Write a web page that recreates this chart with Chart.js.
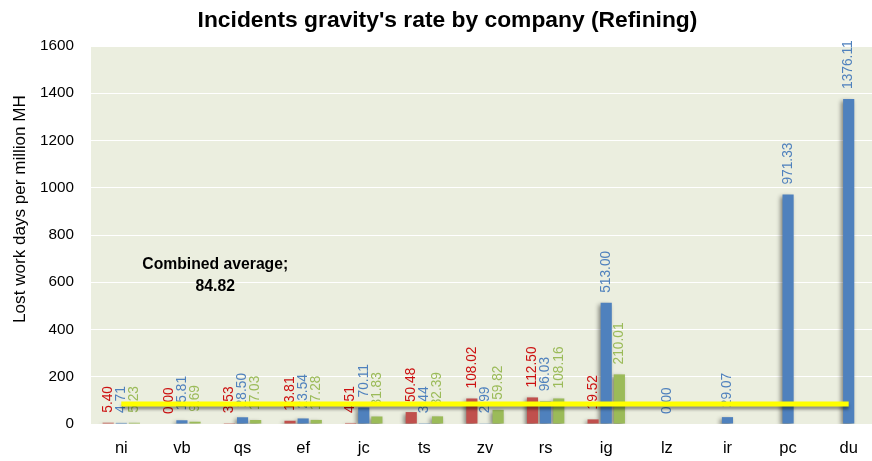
<!DOCTYPE html>
<html><head><meta charset="utf-8">
<script src="https://cdn.jsdelivr.net/npm/chart.js@4.4.1/dist/chart.umd.min.js"></script>
<style>html,body{margin:0;padding:0;overflow:hidden;background:#fff}canvas{display:block}</style>
</head><body>
<canvas id="c" width="880" height="461" style="width:880px;height:461px"></canvas>
<script>
const categories = ['ni','vb','qs','ef','jc','ts','zv','rs','ig','lz','ir','pc','du'];
const seriesRed   = [5.40, 0.00, 3.53, 13.81, 4.51, 50.48, 108.02, 112.50, 19.52, null, null, null, null];
const seriesBlue  = [4.71, 15.81, 28.50, 23.54, 70.11, 3.44, 2.99, 96.03, 513.00, 0.00, 29.07, 971.33, 1376.11];
const seriesGreen = [5.23, 9.69, 17.03, 17.28, 31.83, 32.39, 59.82, 108.16, 210.01, null, null, null, null];
const combinedAverage = 84.82;
const averageLine = [84.82, 84.82, 84.82, 84.82, 84.82, 84.82, 84.82, 84.82, 84.82, 84.82, 84.82, 84.82, 84.82];
const yTicks = [0, 200, 400, 600, 800, 1000, 1200, 1400, 1600];
const chartTitle = "Incidents gravity's rate by company (Refining)";
const yAxisTitle = 'Lost work days per million MH';
const avgLabelLines = ['Combined average;', '84.82'];

const FAM = "'Liberation Sans', Arial, sans-serif";
const mctx = document.createElement('canvas').getContext('2d');
function fit(text, weight, target) {
  mctx.font = weight + ' 100px ' + FAM;
  return 100 * target / mctx.measureText(text).width;
}
const titleSize = fit(chartTitle, 'bold', 500);
const yTitleSize = fit(yAxisTitle, 'normal', 228);
const labelSize = fit('513.00', 'normal', 42);
const avgSize = fit('Combined average;', 'bold', 146);
const tickSize = fit('1600', 'normal', 34);

const labelColors = ['#CC1111', '#4F81BD', '#9BBB59'];

const plotBg = {
  id: 'plotBg',
  beforeDraw(chart) {
    const {ctx, chartArea: a} = chart;
    ctx.save();
    ctx.fillStyle = '#EBEEDF';
    ctx.fillRect(a.left, a.top, a.right - a.left, a.bottom - a.top);
    ctx.restore();
  }
};

const shadowsAndLabels = {
  id: 'shadowsAndLabels',
  beforeDatasetDraw(chart, args) {
    const ctx = chart.ctx;
    ctx.save();
    const type = chart.data.datasets[args.index].type;
    if (type === 'line') {
      ctx.shadowColor = 'rgba(0,0,0,0.4)';
      ctx.shadowBlur = 3;
      ctx.shadowOffsetX = 0;
      ctx.shadowOffsetY = 3;
    } else {
      ctx.shadowColor = 'rgba(0,0,0,0.45)';
      ctx.shadowBlur = 4;
      ctx.shadowOffsetX = -2;
      ctx.shadowOffsetY = 2;
    }
  },
  afterDatasetDraw(chart, args) {
    const ctx = chart.ctx;
    ctx.restore();
    const ds = chart.data.datasets[args.index];
    if (ds.type === 'line') return;
    const meta = args.meta;
    ctx.save();
    ctx.font = labelSize + 'px ' + FAM;
    ctx.fillStyle = labelColors[args.index];
    ctx.textAlign = 'left';
    ctx.textBaseline = 'middle';
    meta.data.forEach((el, i) => {
      const v = ds.data[i];
      if (v === null || v === undefined) return;
      ctx.save();
      ctx.translate(el.x, el.y - 10);
      ctx.rotate(-Math.PI / 2);
      ctx.fillText(v.toFixed(2), 0, 0);
      ctx.restore();
    });
    ctx.restore();
  },
  afterDatasetsDraw(chart) {
    const ctx = chart.ctx;
    const xs = chart.scales.x, ys = chart.scales.y;
    ctx.save();
    ctx.font = 'bold ' + avgSize + 'px ' + FAM;
    ctx.fillStyle = '#000';
    ctx.textAlign = 'center';
    ctx.textBaseline = 'middle';
    const ax = xs.getPixelForValue(1.55);
    ctx.fillText(avgLabelLines[0], ax, ys.getPixelForValue(673));
    ctx.fillText(avgLabelLines[1], ax, ys.getPixelForValue(580));
    ctx.font = yTitleSize + 'px ' + FAM;
    ctx.translate(20, (ys.top + ys.bottom) / 2 - 26);
    ctx.rotate(-Math.PI / 2);
    ctx.fillText(yAxisTitle, 0, 0);
    ctx.restore();
  }
};

new Chart(document.getElementById('c'), {
  data: {
    labels: categories,
    datasets: [
      {type: 'bar', label: 'A', data: seriesRed, backgroundColor: '#C0504D', order: 1},
      {type: 'bar', label: 'B', data: seriesBlue, backgroundColor: '#4F81BD', order: 1},
      {type: 'bar', label: 'C', data: seriesGreen, backgroundColor: '#9BBB59', order: 1},
      {type: 'line', label: 'Combined average', data: averageLine, borderColor: '#FFFF00', borderWidth: 5,
       pointRadius: 0, fill: false, tension: 0, order: 0}
    ]
  },
  options: {
    responsive: false,
    animation: false,
    devicePixelRatio: 1,
    layout: {padding: {left: 16, right: 1, top: 0, bottom: 0}},
    datasets: {bar: {categoryPercentage: 0.65, barPercentage: 0.85}},
    plugins: {
      legend: {display: false},
      tooltip: {enabled: false},
      title: {
        display: true, text: chartTitle, color: '#000',
        font: {family: FAM, size: titleSize, weight: 'bold', lineHeight: 1.2},
        padding: {top: 20.5 - titleSize * 0.6, bottom: 46 - 20.5 - titleSize * 0.6}
      }
    },
    scales: {
      x: {
        grid: {display: false},
        border: {display: false},
        ticks: {color: '#000', font: {family: FAM, size: 16.5}, padding: 7, maxRotation: 0},
        afterFit(s) { s.height = 37; }
      },
      y: {
        min: 0, max: 1600,
        grid: {color: '#FFFFFF', lineWidth: 1, drawTicks: false},
        border: {display: false},
        ticks: {color: '#000', font: {family: FAM, size: tickSize}, padding: 17,
                callback: (v) => String(v)},
        afterBuildTicks(s) { s.ticks = yTicks.map(v => ({value: v})); },
        afterFit(s) { s.width = 75; }
      }
    }
  },
  plugins: [plotBg, shadowsAndLabels]
});
</script>
</body></html>
